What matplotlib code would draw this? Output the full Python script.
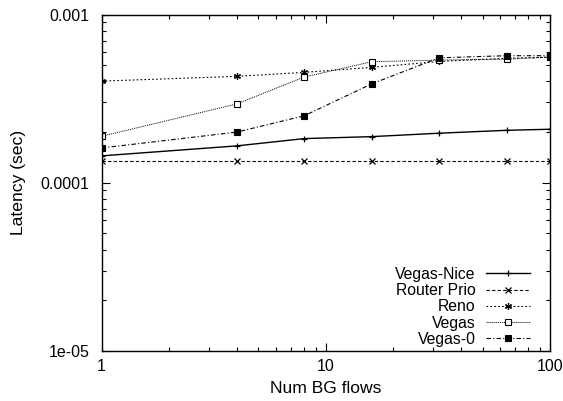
import matplotlib
matplotlib.use('Agg')
import matplotlib.pyplot as plt
from matplotlib.ticker import FixedLocator, FixedFormatter, LogLocator, NullFormatter

plt.rcParams['font.family'] = ['Liberation Sans', 'DejaVu Sans']

# number of background flows and measured latency (seconds)
flows = [1, 4, 8, 16, 32, 64, 100]
vegas_nice = [1.445e-4, 1.656e-4, 1.83e-4, 1.88e-4, 1.97e-4, 2.05e-4, 2.08e-4]
router_prio = [1.35e-4, 1.35e-4, 1.35e-4, 1.35e-4, 1.35e-4, 1.35e-4, 1.35e-4]
reno = [4.02e-4, 4.29e-4, 4.53e-4, 4.85e-4, 5.26e-4, 5.49e-4, 5.58e-4]
vegas = [1.89e-4, 2.94e-4, 4.25e-4, 5.24e-4, 5.36e-4, 5.43e-4, 5.58e-4]
vegas_0 = [1.61e-4, 2.0e-4, 2.5e-4, 3.87e-4, 5.53e-4, 5.69e-4, 5.69e-4]

ytick_vals = [1e-5, 1e-4, 1e-3]
ytick_text = ['1e-05', '0.0001', '0.001']
xtick_vals = [1, 10, 100]
xtick_text = ['1', '10', '100']

fig = plt.figure(figsize=(5.63, 4.01), dpi=100)
ax = fig.add_axes([0.1806, 0.1247, 0.7964, 0.8391])

ax.plot(flows, vegas_nice, color='black', lw=1.0, ls='-', marker='+', ms=5,
        mew=0.9, label='Vegas-Nice')
ax.plot(flows, router_prio, color='black', lw=0.8, ls=(0, (3, 2)), marker='x', ms=4,
        mew=0.9, label='Router Prio')
ax.plot(flows, reno, color='black', lw=0.8, ls=(0, (1.5, 2)), marker=(6, 2, 0), ms=5,
        mew=0.9, label='Reno')
ax.plot(flows, vegas, color='black', lw=0.7, ls=(0, (1, 1)), marker='s', ms=4,
        mfc='white', mew=0.8, label='Vegas')
ax.plot(flows, vegas_0, color='black', lw=0.8, ls=(0, (4, 2, 1, 2)), marker='s', ms=4.5,
        mfc='black', mew=0.8, label='Vegas-0')

ax.set_xscale('log')
ax.set_yscale('log')
ax.set_xlim(1, 100)
ax.set_ylim(1e-5, 1e-3)

ax.xaxis.set_major_locator(FixedLocator(xtick_vals))
ax.xaxis.set_major_formatter(FixedFormatter(xtick_text))
ax.yaxis.set_major_locator(FixedLocator(ytick_vals))
ax.yaxis.set_major_formatter(FixedFormatter(ytick_text))
ax.xaxis.set_minor_locator(LogLocator(base=10, subs=range(2, 10)))
ax.yaxis.set_minor_locator(LogLocator(base=10, subs=range(2, 10)))
ax.xaxis.set_minor_formatter(NullFormatter())
ax.yaxis.set_minor_formatter(NullFormatter())

ax.tick_params(which='both', direction='in', top=True, right=True, width=0.8)
ax.tick_params(which='major', length=6, labelsize=11.5)
ax.tick_params(axis='x', which='major', pad=6)
ax.tick_params(axis='y', which='major', pad=9)
ax.tick_params(which='minor', length=3)
for s in ax.spines.values():
    s.set_linewidth(1.0)

ax.set_xlabel('Num BG flows', fontsize=12.6, labelpad=5)
ax.set_ylabel('Latency (sec)', fontsize=12.6, labelpad=10)

ax.legend(loc='lower right', bbox_to_anchor=(0.955, 0.012), frameon=False,
          markerfirst=False, fontsize=11.3, handlelength=2.8, handletextpad=0.65,
          labelspacing=0.08, borderpad=0, borderaxespad=0)

fig.savefig('out.png', dpi=100)
